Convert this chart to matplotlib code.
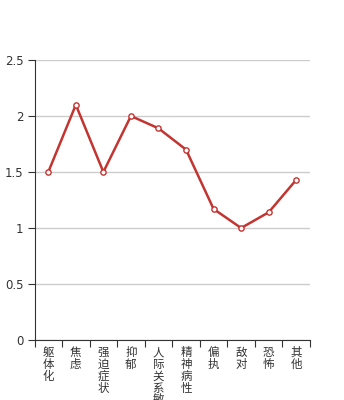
import matplotlib
matplotlib.use("Agg")
import matplotlib.pyplot as plt
import matplotlib.transforms as mtransforms
import numpy as np

categories = ["躯体化", "焦虑", "强迫症状", "抑郁", "人际关系敏感", "精神病性", "偏执", "敌对", "恐怖", "其他"]
values = [1.5, 2.1, 1.5, 2.0, 1.89, 1.7, 1.17, 1.0, 1.14, 1.43]
yticks = [0, 0.5, 1, 1.5, 2, 2.5]
ytick_labels = ["0", "0.5", "1", "1.5", "2", "2.5"]

fig = plt.figure(figsize=(3.44, 4.0), dpi=100)
ax = fig.add_axes([34.5/344, 60/400, 275.5/344, 280/400])

x = np.arange(len(categories))
ax.plot(x, values, color="#c23531", lw=1.8, marker="o", ms=3.8,
        markerfacecolor="white", markeredgecolor="#c23531", markeredgewidth=1, zorder=3)

ax.set_xlim(-0.5, len(categories) - 0.5)
ax.set_ylim(0, 2.5)
ax.set_yticks(yticks)
ax.set_yticklabels(ytick_labels, fontsize=8.5, color="#333333")
ax.yaxis.grid(True, color="#cccccc", lw=1)
ax.set_axisbelow(True)

ax.set_xticks(np.arange(-0.5, len(categories)))
ax.set_xticklabels([])
ax.tick_params(axis="x", length=5, color="#333333", direction="out")
ax.tick_params(axis="y", length=5, color="#333333", pad=3)

# vertical category labels, one character per line
base = ax.get_xaxis_transform()
for xi, cat in zip(x, categories):
    for i, ch in enumerate(cat):
        tr = mtransforms.offset_copy(base, fig=fig, x=0, y=-(6 + 12 * i) * 0.72, units="points")
        ax.text(xi, 0, ch, transform=tr, ha="center", va="top", fontsize=8.3,
                color="#333333", family=["Noto Sans CJK SC", "DejaVu Sans"], clip_on=False)

for s in ["top", "right"]:
    ax.spines[s].set_visible(False)
ax.spines["left"].set_color("#333333")
ax.spines["bottom"].set_color("#333333")

fig.savefig("out.png", dpi=100)
